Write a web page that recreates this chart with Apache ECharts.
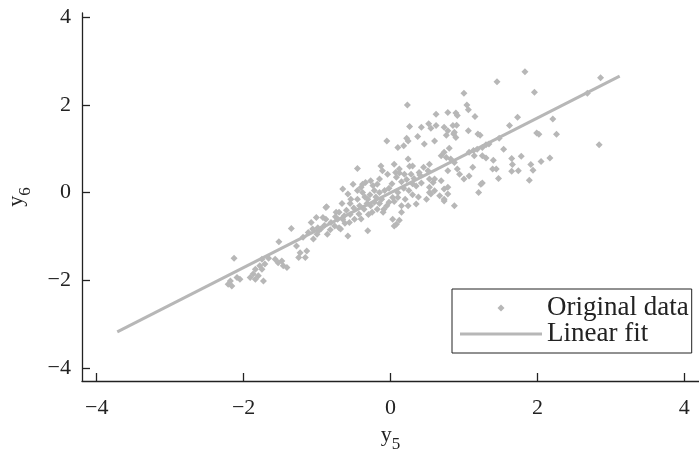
<!DOCTYPE html>
<html>
<head>
<meta charset="utf-8">
<script src="https://cdn.jsdelivr.net/npm/echarts@6/dist/echarts.min.js"></script>
<style>
  html, body { margin: 0; padding: 0; background: #fff; }
  #chart { width: 699px; height: 462px; }
</style>
</head>
<body>
<div id="chart"></div>
<script>
// Observed pairs (y5, y6)
const y5 = [
  -2.13, -2.09, -2.18, -2.21, -2.16, -2.05, -1.91, -1.87, -1.84, -1.80,
  -1.78, -1.84, -1.75, -1.73, -1.71, -1.75, -1.66, -1.57, -1.53, -1.48,
  -1.46, -1.41, -1.52, -1.35, -1.28, -1.23, -1.14, -1.16, -1.25, -1.19,
  -1.12, -1.05, -0.98, -1.08, -1.01, -1.06, -0.99, -0.87,
  -0.05, -0.45, -0.13, -0.11, -0.04, 0.05, 0.07, -0.65, -0.58, -0.54,
  -0.40, -0.34, -0.27, -0.24, -0.18, -0.38, -0.31, -0.27, -0.22, -0.36,
  -0.43, -0.49, -0.56, -0.63, -0.72, -0.76, -0.81, -0.88, -0.92, -0.95,
  -0.86, -0.68, -0.58, -0.88, -0.31, 0.03, 0.05, -0.09, -0.02, 0.03,
  0.10, -0.51, 0.08, 0.12, -0.65, -0.74, -0.38, -0.15, 0.12, 0.19,
  0.30, 0.39, 0.53, 0.58, 0.73, 0.67, 0.53,
  -0.35, -0.28, -0.20, -0.15, -0.25, -0.18, -0.12, -0.32, -0.42, -0.08,
  -0.22, -0.45, -0.50, -0.60, -0.66, -0.70, -0.55, -0.62, -0.70, -0.75,
  -0.82, -0.90, -1.00, -0.40, -0.30, -0.10, -0.05, -0.15, -0.45, -0.55,
  0.26, 0.42, 0.52, 0.55, 0.62, 0.73, 0.78, 0.85, 0.87, 0.89,
  0.24, 0.10, 0.37, 0.46, 0.60, 0.69, 0.73, 0.80, 0.76, 0.82,
  0.87, 0.91, 1.00, 1.07, 1.12, 1.13, 1.18, 1.25, 1.20, 1.23,
  0.24, 0.26, 0.45, 0.51, 0.60, 0.69, 0.73, 0.78, 0.73, 0.87,
  0.53, 0.55, 0.49, 0.35, 0.24, 0.15,
  0.08, 0.15, 0.22, 0.30, 0.18, 0.10, 0.25, 0.35, 0.05, 0.20,
  0.30, 0.40, 0.12, 0.28, 0.38, 0.02, -0.02, 0.15, 0.32, 0.42,
  1.00, 0.23, 0.62, 0.78, 0.89, 0.91, 1.04, 1.06, 1.15, 1.06,
  1.19, 0.22, 0.18, 0.76, 0.86, 0.90, 0.53, 0.60, 0.78, 0.94, 0.78,
  1.83, 1.45, 2.86, 1.96, 2.68, 1.73, 1.62, 2.21, 1.22, 1.48,
  1.99, 2.02, 2.26, 2.84, 1.30, 1.25, 1.54, 1.30, 1.40, 1.65,
  1.78, 2.17, 2.05, 1.66, 1.91, 1.39, 1.44, 1.65, 1.74, 1.94,
  1.47, 1.89, 1.25, 1.34, 1.07, 1.14
];
const y6 = [
  -1.50, -1.94, -2.02, -2.09, -2.13, -1.98, -1.94, -1.86, -1.98, -1.90,
  -1.67, -1.75, -1.75, -2.02, -1.63, -1.52, -1.50, -1.52, -1.60, -1.56,
  -1.67, -1.71, -1.12, -0.82, -1.22, -1.37, -1.33, -1.48, -1.48, -1.02,
  -0.91, -1.06, -0.87, -0.68, -0.57, -0.83, -0.80, -0.32,
  1.18, 0.55, 0.61, 0.50, 0.42, 0.65, 0.46, 0.08, -0.03, -0.15,
  0.12, 0.23, 0.27, 0.16, 0.19, 0.00, -0.15, -0.30, -0.22, -0.38,
  -0.49, -0.61, -0.68, -0.53, -0.61, -0.76, -0.68, -0.61, -0.57, -0.83,
  -0.95, -0.83, -0.99, -0.34, -0.87, -0.61, -0.76, -0.38, -0.22, -0.11,
  -0.11, 0.19, -0.72, -0.63, -0.61, -0.45, 0.19, 0.31, 0.54, 0.42,
  0.61, 0.46, 0.31, 0.23, -0.15, -0.07, 0.00,
  -0.10, -0.05, -0.10, -0.25, -0.45, -0.38, -0.15, -0.25, -0.30, 0.05,
  0.05, -0.15, -0.35, -0.40, -0.25, -0.45, -0.50, -0.70, -0.80, -0.55,
  -0.85, -0.75, -0.95, -0.60, -0.50, -0.45, -0.30, 0.00, 0.05, -0.25,
  1.51, 1.49, 1.57, 1.47, 1.53, 1.49, 1.41, 1.53, 1.38, 1.26,
  1.18, 1.03, 1.28, 1.11, 1.18, 0.84, 0.92, 1.01, 0.80, 0.77,
  0.69, 0.54, 0.31, 0.38, 0.58, 0.96, 0.99, 0.84, 0.00, 0.19,
  0.77, 0.60, 0.58, 0.50, 0.31, 0.27, 0.08, -0.03, -0.19, -0.30,
  0.12, -0.03, -0.15, -0.26, -0.30, -0.45,
  0.35, 0.25, 0.30, 0.20, 0.10, 0.00, 0.05, 0.15, -0.20, -0.15,
  -0.05, 0.40, 0.45, 0.42, -0.10, 0.20, 0.10, -0.30, 0.32, 0.22,
  2.27, 2.00, 1.79, 1.83, 1.82, 1.76, 2.00, 1.89, 1.74, 1.41,
  1.34, 1.24, 1.07, 1.31, 1.34, 1.54, 0.65, 0.04, 0.50, 0.42, 0.12,
  2.76, 2.53, 2.62, 2.29, 2.27, 1.72, 1.53, 1.68, 1.31, 1.24,
  1.36, 1.33, 1.33, 1.09, 1.09, 1.03, 0.99, 0.79, 0.74, 0.78,
  0.83, 0.79, 0.71, 0.64, 0.64, 0.54, 0.54, 0.49, 0.50, 0.51,
  0.32, 0.28, 0.22, 1.11, 0.92, 0.84
];

// Fitted line end points
const fitX = [-3.72, 3.12];
const fitY = [-3.18, 2.66];

// Tick positions on both axes
const xTicks = [-4, -2, 0, 2, 4];
const yTicks = [-4, -2, 0, 2, 4];

const seriesNames = ['Original data', 'Linear fit'];

const GRAY = '#b7b7b7';
const INK = '#222222';
const SERIF = '"Liberation Serif", "DejaVu Serif", serif';

const scatterData = y5.map((v, i) => [v, y6[i]]);
const lineData = fitX.map((v, i) => [v, fitY[i]]);

const fmt = v => (v < 0 ? '\u2212' + (-v) : String(v));

const chart = echarts.init(document.getElementById('chart'), null, { renderer: 'canvas' });

const axisCommon = {
  type: 'value',
  splitLine: { show: false },
  axisLine: { show: true, onZero: false, lineStyle: { color: INK, width: 1.3 } },
  axisTick: { show: true, inside: true, length: 8, lineStyle: { color: INK, width: 1.3 } },
  nameLocation: 'middle'
};

const nameStyle = {
  fontFamily: SERIF,
  color: INK,
  rich: {
    a: { fontFamily: SERIF, fontSize: 22, color: INK, lineHeight: 22, verticalAlign: 'top' },
    b: { fontFamily: SERIF, fontSize: 17, color: INK, padding: [12, 0, 0, 0], verticalAlign: 'bottom' }
  }
};

chart.setOption({
  animation: false,
  backgroundColor: '#ffffff',
  grid: { left: 82, right: 0, top: 13, bottom: 81, containLabel: false, outerBoundsMode: 'none' },
  legend: {
    orient: 'vertical',
    left: 452,
    top: 289,
    padding: [5.5, 3, 5.5, 8],
    itemGap: -1,
    itemWidth: 82,
    itemHeight: 7,
    borderColor: INK,
    borderWidth: 1,
    borderRadius: 0,
    data: [
      { name: seriesNames[0], icon: 'path://M5,0L10,5L5,10L0,5Z' },
      { name: seriesNames[1], icon: 'path://M0,0L82,0L82,3L0,3Z' }
    ],
    textStyle: { fontFamily: SERIF, fontSize: 27, color: INK }
  },
  xAxis: Object.assign({}, axisCommon, {
    min: -4.2,
    max: 4.2,
    axisTick: Object.assign({}, axisCommon.axisTick, { customValues: xTicks }),
    axisLabel: {
      customValues: xTicks,
      formatter: fmt,
      fontFamily: SERIF,
      fontSize: 22,
      color: INK,
      margin: 16
    },
    name: '{a|y}{b|5}',
    nameGap: 35,
    nameTextStyle: nameStyle
  }),
  yAxis: Object.assign({}, axisCommon, {
    min: -4.3,
    max: 4.1,
    axisTick: Object.assign({}, axisCommon.axisTick, { customValues: yTicks }),
    axisLabel: {
      customValues: yTicks,
      formatter: fmt,
      fontFamily: SERIF,
      fontSize: 22,
      color: INK,
      margin: 11
    },
    name: '{a|y}{b|6}',
    nameGap: 48,
    nameTextStyle: nameStyle
  }),
  series: [
    {
      name: seriesNames[0],
      type: 'scatter',
      symbol: 'diamond',
      symbolSize: 7,
      itemStyle: { color: GRAY, opacity: 1 },
      data: scatterData,
      z: 3
    },
    {
      name: seriesNames[1],
      type: 'line',
      symbol: 'none',
      lineStyle: { color: GRAY, width: 3 },
      itemStyle: { color: GRAY },
      data: lineData,
      z: 2
    }
  ]
});
</script>
</body>
</html>
